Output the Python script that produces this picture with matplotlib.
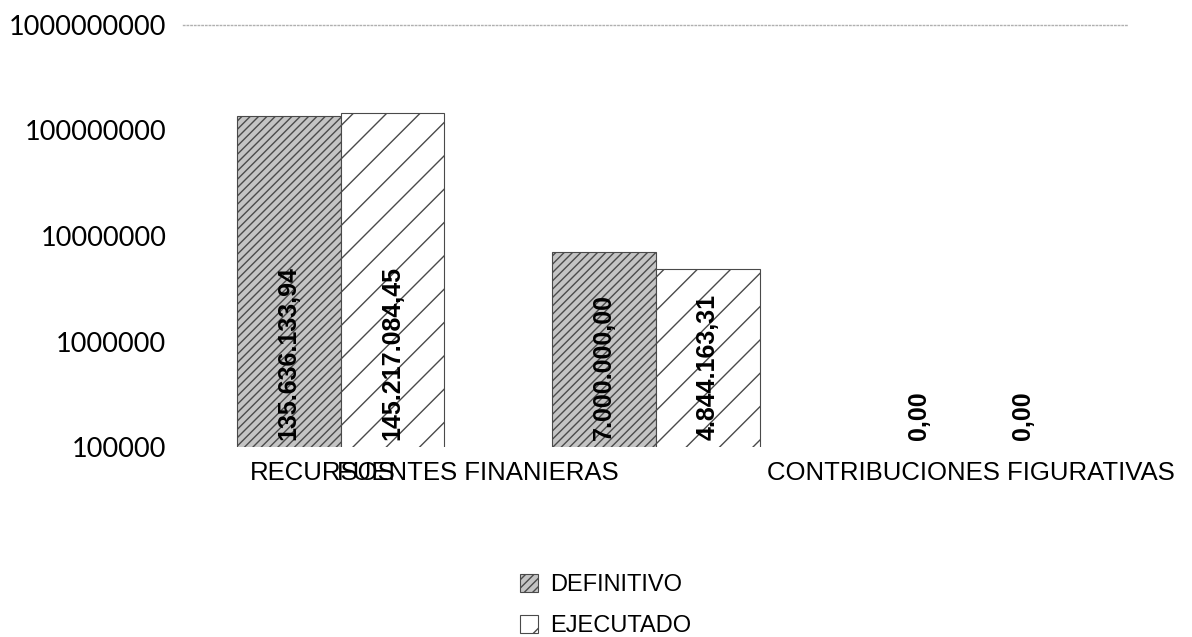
import numpy as np
import matplotlib.pyplot as plt

categorias = ['RECURSOS', 'FUENTES FINANIERAS', 'CONTRIBUCIONES FIGURATIVAS']
definitivo = [135636133.94, 7000000.00, 0.0]
ejecutado = [145217084.45, 4844163.31, 0.0]
etiq_def = ['135.636.133,94', '7.000.000,00', '0,00']
etiq_eje = ['145.217.084,45', '4.844.163,31', '0,00']
yticks = [1e5, 1e6, 1e7, 1e8, 1e9]

# posiciones de las etiquetas de categoria (se superponen como en el original)
pos_cat = [-0.055, 0.435, 2.0]

fig = plt.figure(figsize=(11.92, 6.37), dpi=100)
ax = fig.add_axes([0.1535, 0.298, 0.793, 0.663])

x = np.arange(len(categorias))
w = 0.33
d = np.array(definitivo)
e = np.array(ejecutado)
m1 = d > 0
m2 = e > 0

ax.bar(x[m1] - w / 2, d[m1], w, bottom=0, facecolor='#c4c4c4', edgecolor='#4a4a4a',
       hatch='////', linewidth=0.8, label='DEFINITIVO')
ax.bar(x[m2] + w / 2, e[m2], w, bottom=0, facecolor='white', edgecolor='#4a4a4a',
       hatch='/', linewidth=0.8, label='EJECUTADO')

ax.set_yscale('log')
ax.set_ylim(1e5, 1e9)
ax.set_xlim(-0.5, 2.5)
ax.set_yticks(yticks)
ax.set_yticklabels([str(int(v)) for v in yticks], fontfamily='Lato', fontsize=19.5)
ax.yaxis.set_minor_locator(plt.NullLocator())
ax.tick_params(axis='y', length=0, pad=12)

ax.set_xticks(pos_cat)
ax.set_xticklabels(categorias, fontfamily='Liberation Sans', fontsize=18.5)
ax.tick_params(axis='x', length=0, pad=10)

for s in ['left', 'right', 'bottom']:
    ax.spines[s].set_visible(False)
ax.spines['top'].set_linestyle(':')
ax.spines['top'].set_color('#b0b0b0')
ax.spines['top'].set_linewidth(1)

for i in range(len(categorias)):
    ax.annotate(etiq_def[i], xy=(x[i] - w / 2, 1e5), xytext=(0, 5), textcoords='offset points',
                rotation=90, ha='center', va='bottom', fontsize=18, fontweight='bold',
                fontfamily='Liberation Sans')
    ax.annotate(etiq_eje[i], xy=(x[i] + w / 2, 1e5), xytext=(0, 5), textcoords='offset points',
                rotation=90, ha='center', va='bottom', fontsize=18, fontweight='bold',
                fontfamily='Liberation Sans')

leg = fig.legend(loc='center', bbox_to_anchor=(0.508, 0.049), ncol=1, frameon=False,
                 prop={'family': 'Liberation Sans', 'size': 17},
                 handlelength=0.75, handleheight=0.75, labelspacing=0.8, handletextpad=0.5,
                 borderpad=0.1)

fig.savefig('out.png', dpi=100, facecolor='white')
